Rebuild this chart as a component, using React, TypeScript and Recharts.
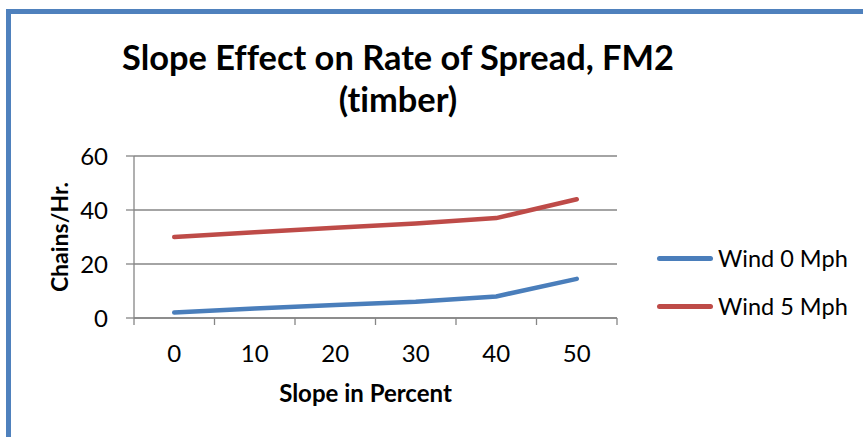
import React from "react"
import { LineChart, Line, XAxis, YAxis, CartesianGrid, Legend } from "recharts"

const SLOPES = [0, 10, 20, 30, 40, 50]
const WIND_0 = [2, 3.5, 4.8, 6, 8, 14.5]
const WIND_5 = [30, 31.8, 33.4, 35, 37, 44]
const Y_TICKS = [0, 20, 40, 60]

const SERIES = [
  { key: "wind0", name: "Wind 0 Mph", color: "#4A7EBB" },
  { key: "wind5", name: "Wind 5 Mph", color: "#BE4B48" },
]

const FONT = "Lato, 'Open Sans', sans-serif"
const AXIS_GRAY = "#868686"
const NO_LIGA = { fontVariantLigatures: "none" as const }

const data = SLOPES.map((slope, i) => ({ slope, wind0: WIND_0[i], wind5: WIND_5[i] }))

// category boundaries sit halfway between slope values, like an Excel category axis
const step = SLOPES[1] - SLOPES[0]
const boundaries = [...SLOPES.map(s => s - step / 2), SLOPES[SLOPES.length - 1] + step / 2]
const xTicks = [...boundaries, ...SLOPES].sort((a, b) => a - b)

function SlopeTick(props: any) {
  const { x, y, payload } = props
  if (SLOPES.includes(payload.value)) {
    return (
      <text x={x} y={y + 34} textAnchor="middle" dominantBaseline="central" fontSize={24} fontFamily={FONT} fill="#000">
        {payload.value}
      </text>
    )
  }
  return <line x1={x} x2={x} y1={y} y2={y + 7} stroke={AXIS_GRAY} strokeWidth={1.3} />
}

function LegendBox() {
  return (
    <div style={{ fontFamily: FONT, fontSize: 23.5, color: "#000" }}>
      {SERIES.map(s => (
        <div key={s.key} style={{ display: "flex", alignItems: "center", height: 48 }}>
          <div style={{ width: 56, height: 5, borderRadius: 3, background: s.color, marginRight: 5 }} />
          <span>{s.name}</span>
        </div>
      ))}
    </div>
  )
}

export default function App() {
  return (
    <div style={{ position: "fixed", left: 0, top: 0, width: 863, height: 437, background: "#fff", overflow: "hidden" }}>
      <div
        style={{
          position: "absolute",
          left: 6,
          top: 9,
          width: 900,
          height: 500,
          border: "5px solid #4F81BD",
          boxSizing: "border-box",
        }}
      />
      <div
        style={{
          position: "absolute",
          left: 0,
          width: 796,
          top: 36,
          textAlign: "center",
          fontFamily: FONT,
          fontWeight: 700,
          fontSize: 34.4,
          lineHeight: "42px",
          color: "#000",
          ...NO_LIGA,
        }}
      >
        Slope Effect on Rate of Spread, FM2
        <br />
        (timber)
      </div>
      <div style={{ position: "absolute", left: 0, top: 0 }}>
        <LineChart width={863} height={437} data={data} margin={{ top: 156, right: 246, bottom: 89, left: 54 }}>
          <CartesianGrid vertical={false} stroke={AXIS_GRAY} strokeWidth={1.3} />
          <XAxis
            dataKey="slope"
            type="number"
            domain={[boundaries[0], boundaries[boundaries.length - 1]]}
            ticks={xTicks}
            interval={0}
            height={30}
            tickLine={false}
            tickSize={0}
            tickMargin={0}
            tick={<SlopeTick />}
            axisLine={{ stroke: AXIS_GRAY, strokeWidth: 1.3 }}
            label={{
              value: "Slope in Percent",
              position: "insideBottom",
              dx: -10,
              dy: 59,
              style: { fontFamily: FONT, fontWeight: 700, fontSize: 24, fill: "#000" },
            }}
          />
          <YAxis
            domain={[0, 60]}
            ticks={Y_TICKS}
            width={80}
            tickSize={8}
            tickMargin={18}
            tickLine={{ stroke: AXIS_GRAY, strokeWidth: 1.3 }}
            axisLine={{ stroke: AXIS_GRAY, strokeWidth: 1.3 }}
            tick={{ fontSize: 24, fontFamily: FONT, fill: "#000" }}
            label={{
              value: "Chains/Hr.",
              angle: -90,
              position: "insideLeft",
              offset: 6,
              style: { fontFamily: FONT, fontWeight: 700, fontSize: 23, fill: "#000", textAnchor: "middle" },
            }}
          />
          <Legend
            layout="vertical"
            align="center"
            verticalAlign="middle"
            wrapperStyle={{ left: 657, top: 234, width: 206 }}
            content={<LegendBox />}
          />
          {SERIES.map(s => (
            <Line
              key={s.key}
              type="linear"
              dataKey={s.key}
              name={s.name}
              stroke={s.color}
              strokeWidth={4.5}
              strokeLinecap="round"
              dot={false}
              activeDot={false}
              isAnimationActive={false}
            />
          ))}
        </LineChart>
      </div>
    </div>
  )
}
